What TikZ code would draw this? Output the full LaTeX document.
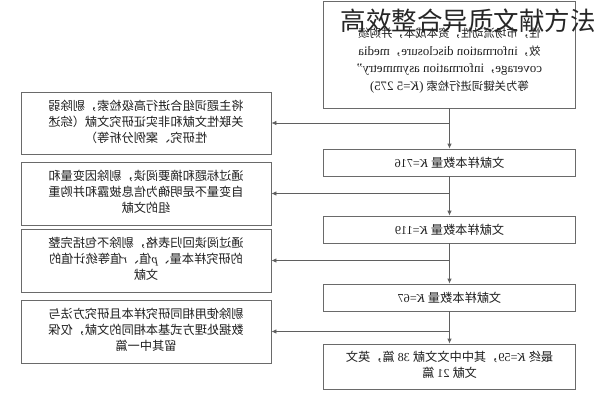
\documentclass[tikz,border=0pt]{standalone}
\usepackage{fontspec}
\usepackage{graphicx}
\setmainfont{Liberation Serif}
\newfontfamily\cjk{Noto Sans CJK SC}
\newcommand\biglat[1]{{\fontsize{12.9}{17.5}\selectfont #1}}
\usetikzlibrary{arrows.meta}
\definecolor{boxline}{HTML}{6A6A6A}
\definecolor{txt}{HTML}{1E1E1E}
\begin{document}
\begin{tikzpicture}[x=1pt,y=-1pt,
  box/.style={draw=boxline, line width=0.8pt, inner sep=0pt, text=txt,
    font=\fontsize{12.2}{16}\selectfont},
  leftbox/.style={box, minimum width=250pt, minimum height=63pt},
  rightbox/.style={box, minimum width=252pt, minimum height=27pt},
  conn/.style={draw=boxline!90!black, line width=0.8pt},
  arr/.style={conn, -{Latex[length=5pt,width=4.5pt]}}]
\useasboundingbox (0,0) rectangle (596,400);

% right column
\node[box, minimum width=252pt, minimum height=107pt] (A) at (449.5,54.5) {};
\node[text=txt, inner sep=0pt, font=\fontsize{11.4}{17.5}\selectfont] (At) at (449.5,60.5)
 {\reflectbox{\begin{tabular}{@{}c@{}}
 {\cjk 性，市场流动性，资本成本，并购绩}\\
 {\cjk 效，}\biglat{information disclosure}{\cjk ，}\biglat{media}\\
 \biglat{coverage}{\cjk ，}\biglat{information asymmetry”}\\
 {\cjk 等为关键词进行检索} \biglat{({\itshape K}=5 275)}
 \end{tabular}}};

\node[rightbox] (B) at (449.5,162.5) {\reflectbox{{\cjk 文献样本数量} {\itshape K}=716}};
\node[rightbox] (C) at (449.5,229.5) {\reflectbox{{\cjk 文献样本数量} {\itshape K}=119}};
\node[rightbox] (D) at (449.5,297.5) {\reflectbox{{\cjk 文献样本数量} {\itshape K}=67}};
\node[box, minimum width=252pt, minimum height=45pt] (E) at (449.5,366.5)
 {\reflectbox{\begin{tabular}{@{}c@{}}
 {\cjk 最终} {\itshape K}=59{\cjk ，其中中文文献} 38 {\cjk 篇，英文}\\
 {\cjk 文献} 21 {\cjk 篇}
 \end{tabular}}};

% left column
\node[leftbox, minimum height=62pt] (L1) at (146,123)
 {\reflectbox{\begin{tabular}{@{}c@{}}
 {\cjk 将主题词组合进行高级检索，剔除弱}\\
 {\cjk 关联性文献和非实证研究文献（综述}\\
 {\cjk 性研究、案例分析等）}
 \end{tabular}}};
\node[leftbox] (L2) at (146,193.5)
 {\reflectbox{\begin{tabular}{@{}c@{}}
 {\cjk 通过标题和摘要阅读，剔除因变量和}\\
 {\cjk 自变量不是明确为信息披露和并购重}\\
 {\cjk 组的文献}
 \end{tabular}}};
\node[leftbox] (L3) at (146,260.5)
 {\reflectbox{\begin{tabular}{@{}c@{}}
 {\cjk 通过阅读回归表格，剔除不包括完整}\\
 {\cjk 的研究样本量、}{\itshape p}{\cjk 值、}{\itshape r}{\cjk 值等统计值的}\\
 {\cjk 文献}
 \end{tabular}}};
\node[leftbox] (L4) at (146,331.5)
 {\reflectbox{\begin{tabular}{@{}c@{}}
 {\cjk 剔除使用相同研究样本且研究方法与}\\
 {\cjk 数据处理方式基本相同的文献，仅保}\\
 {\cjk 留其中一篇}
 \end{tabular}}};

% connectors
\draw[arr] (A.south) -- (B.north);
\draw[arr] (B.south) -- (C.north);
\draw[arr] (C.south) -- (D.north);
\draw[arr] (D.south) -- (E.north);
\draw[arr] (L1.east -| A.south) -- (L1.east);
\draw[arr] (L2.east -| A.south) -- (L2.east);
\draw[arr] (L3.east -| A.south) -- (L3.east);
\draw[arr] (L4.east -| A.south) -- (L4.east);

% title overlay
\node[inner sep=0pt, text=black!85, font=\cjk\fontsize{25.5}{26}\selectfont] (title) at (468,20.5) {高效整合异质文献方法};
\end{tikzpicture}
\end{document}
